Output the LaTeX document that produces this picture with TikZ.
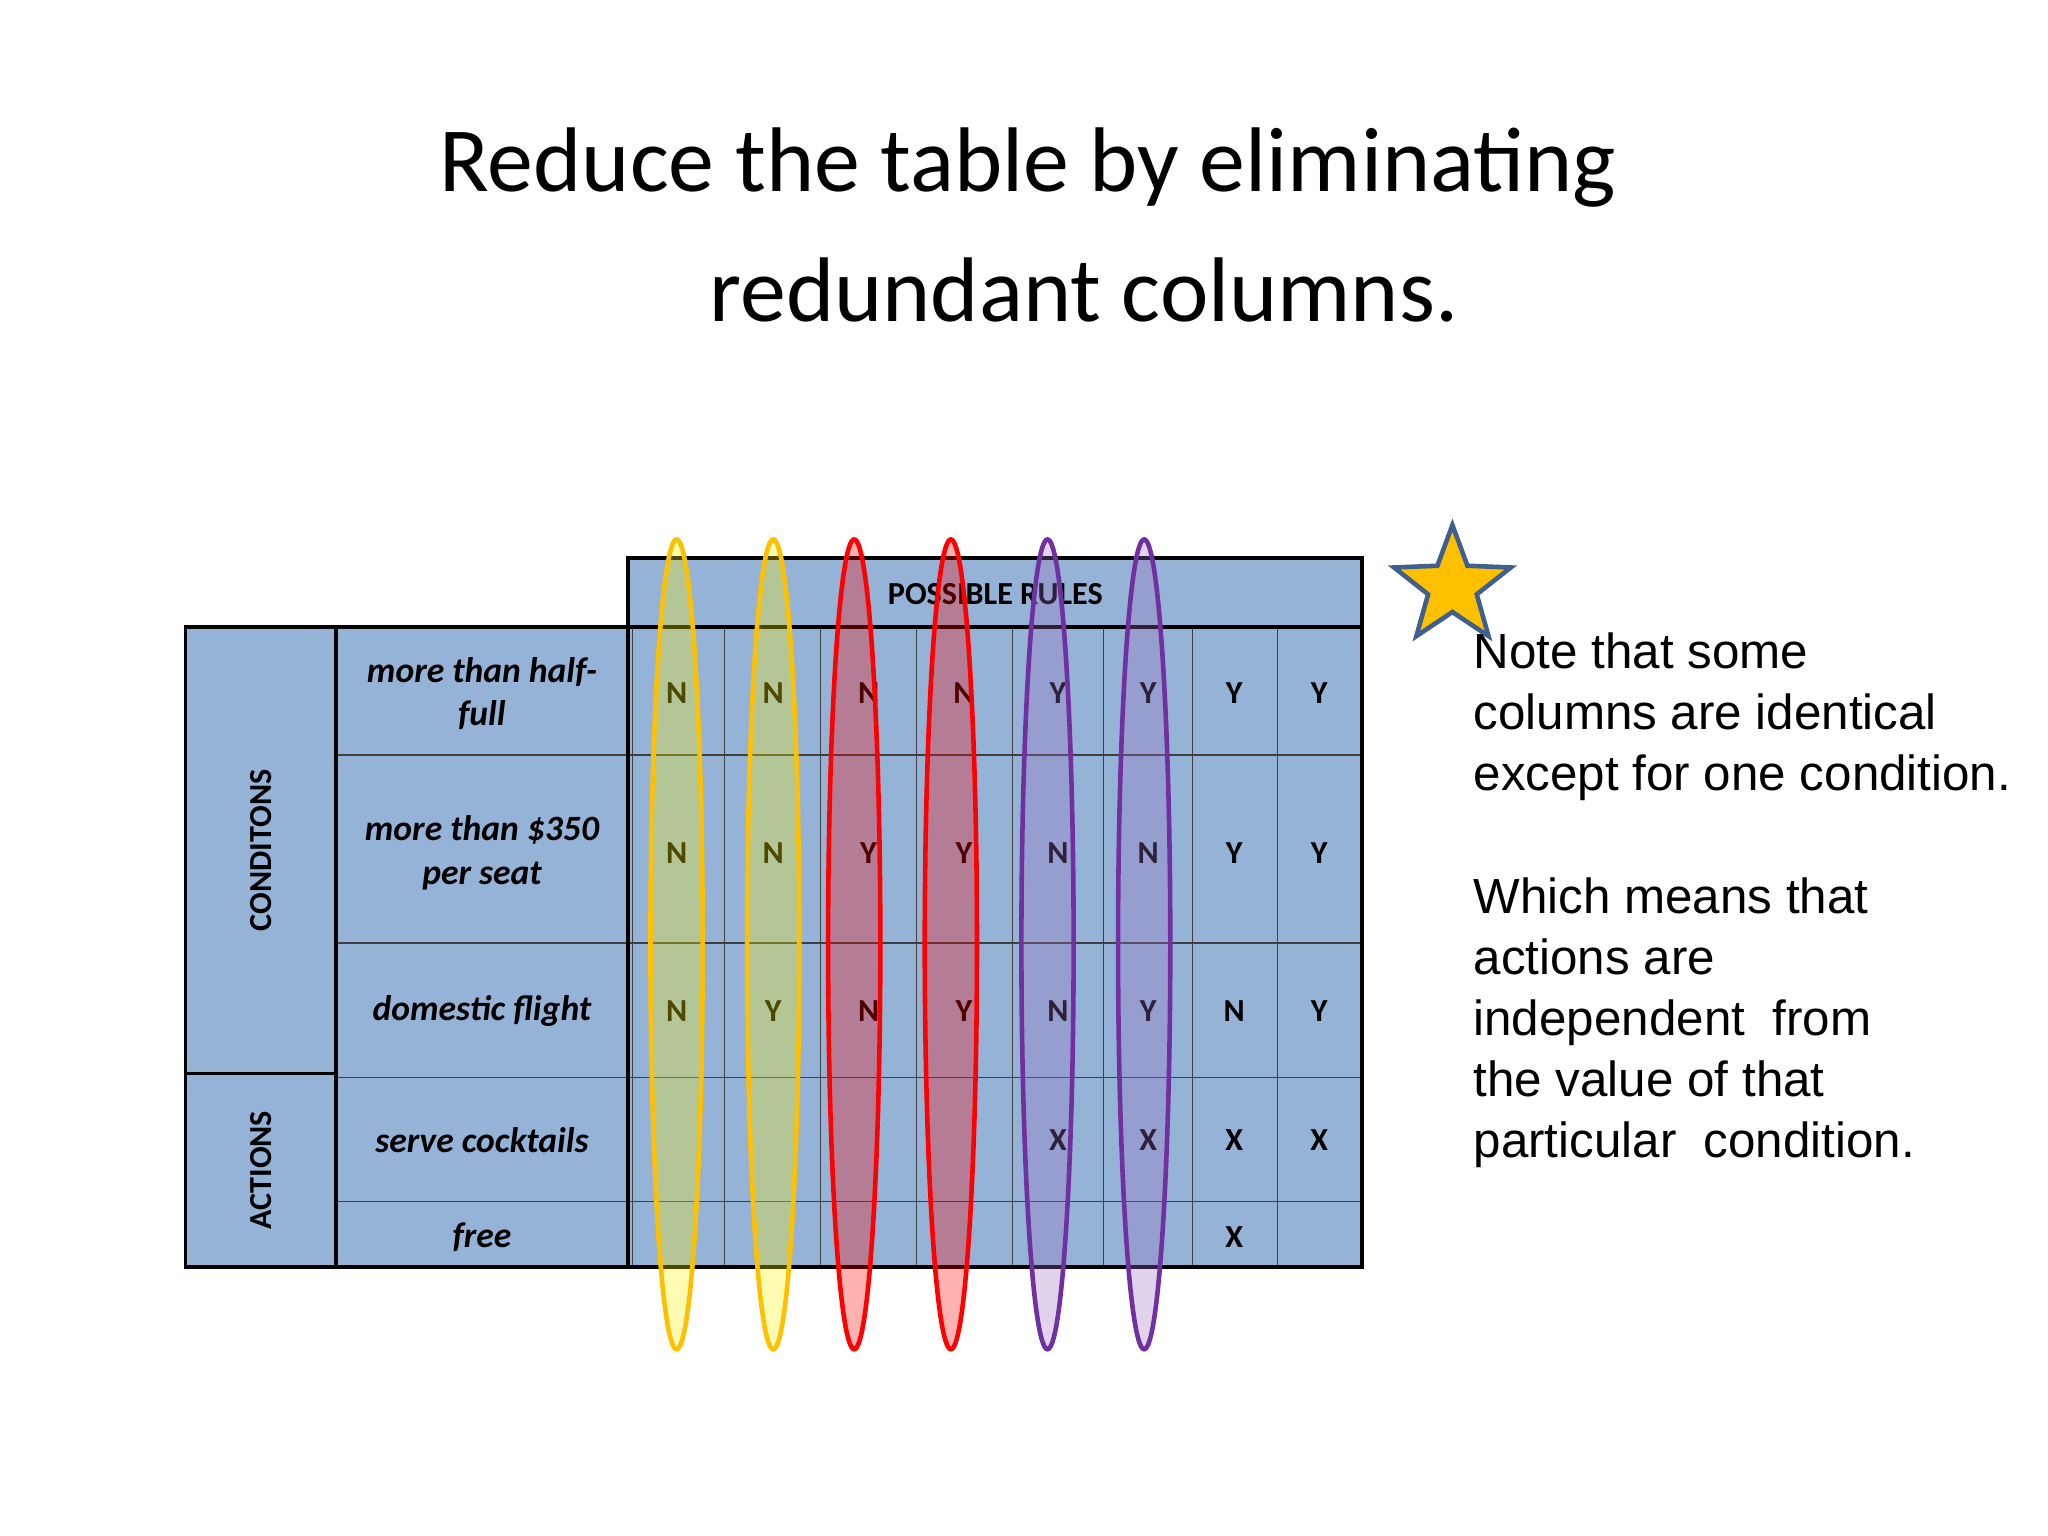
\documentclass[tikz,border=0pt]{standalone}
\usepackage{fontspec}
\setmainfont{Carlito}
\newfontfamily\arialf{Liberation Sans}
\usetikzlibrary{shapes.geometric}
\definecolor{cellblue}{HTML}{95B3D7}
\definecolor{ygold}{HTML}{FFC000}
\definecolor{pviolet}{HTML}{7030A0}
\definecolor{starfill}{HTML}{FFC000}
\definecolor{starline}{HTML}{3F5F8F}
\tikzset{
  thinline/.style={draw=black!75, line width=0.5pt},
  thickline/.style={draw=black, line width=1.6pt},
  lab/.style={font=\bfseries\itshape\fontsize{15.5}{19}\selectfont, align=center},
  val/.style={font=\bfseries\fontsize{14}{16}\selectfont},
  vlab/.style={font=\bfseries\fontsize{14}{16}\selectfont, rotate=90},
  oval/.style={ellipse, minimum width=40*0.02cm, minimum height=620*0.02cm, line width=2pt, inner sep=0pt},
  notetext/.style={font=\arialf\fontsize{21.5}{26.6}\selectfont, align=left, anchor=north west}
}
\begin{document}
\begin{tikzpicture}[x=0.02cm,y=-0.02cm]
\useasboundingbox (0,0) rectangle (1568,1176);
\fill[white] (0,0) rectangle (1568,1176);
% title
\node[font=\fontsize{40}{48}\selectfont] (t1) at (787,128) {Reduce the table by eliminating};
\node[font=\fontsize{40}{48}\selectfont] (t2) at (830,222) {redundant columns.};
% table fills
\fill[cellblue] (142,480) rectangle (1043,970);
\fill[cellblue] (481,427) rectangle (1043,480);
% thin lines
\foreach \x in {555,628,702,775,845,913,978} \draw[thinline] (\x,480) -- (\x,970);
\draw[thinline] (484,480) -- (484,970);
\foreach \y in {578,722,920} \draw[thinline] (257,\y) -- (1043,\y);
\draw[thinline] (257,825) -- (1043,825);
% thick lines
\draw[thickline] (142,480) rectangle (1043,970);
\draw[thickline] (481,427) rectangle (1043,480);
\draw[thickline] (257,480) -- (257,970);
\draw[thickline] (481,480) -- (481,970);
\draw[thickline] (142,822) -- (257,822);
% labels
\node[val] (hdr) at (762,455) {POSSIBLE RULES};
\node[vlab] (cond) at (200,651) {CONDITONS};
\node[vlab] (act) at (200,896) {ACTIONS};
\node[lab] (r1) at (369,531) {more than half-\\full};
\node[lab] (r2) at (369,653) {more than \$350\\per seat};
\node[lab] (r3) at (369,774) {domestic flight};
\node[lab] (r4) at (369,873) {serve cocktails};
\node[lab] (r5) at (369,947) {free};
% values
\foreach \x/\a/\b/\c/\d/\e [count=\i] in {518/N/N/N//,592/N/N/Y//,665/N/Y/N//,738/N/Y/Y//,810/Y/N/N/X/,879/Y/N/Y/X/,945/Y/Y/N/X/X,1010/Y/Y/Y/X/}{
  \node[val] (v1\i) at (\x,531) {\a};
  \node[val] (v2\i) at (\x,653) {\b};
  \node[val] (v3\i) at (\x,774) {\c};
  \node[val] (v4\i) at (\x,873) {\d};
  \node[val] (v5\i) at (\x,947) {\e};
}
% ovals
\node[oval, draw=ygold, fill=yellow, fill opacity=0.3] (o1) at (518,723) {};
\node[oval, draw=ygold, fill=yellow, fill opacity=0.3] (o2) at (592,723) {};
\node[oval, draw=red, fill=red, fill opacity=0.3] (o3) at (654,723) {};
\node[oval, draw=red, fill=red, fill opacity=0.3] (o4) at (728,723) {};
\node[oval, draw=pviolet, fill=pviolet!70, fill opacity=0.3] (o5) at (802,723) {};
\node[oval, draw=pviolet, fill=pviolet!70, fill opacity=0.3] (o6) at (876,723) {};
% star
\node[star, star points=5, star point ratio=2.4, minimum size=94*0.02cm, inner sep=0pt, fill=starfill, draw=starline, line width=2pt] (st) at (1112,449) {};
% note text
\node[notetext] (n1) at (1122,478) {Note that some\\columns are identical\\except for one condition.};
\node[notetext] (n2) at (1122,666) {Which means that\\actions are\\independent\ \ from\\the value of that\\particular\ \ condition.};
\end{tikzpicture}
\end{document}
